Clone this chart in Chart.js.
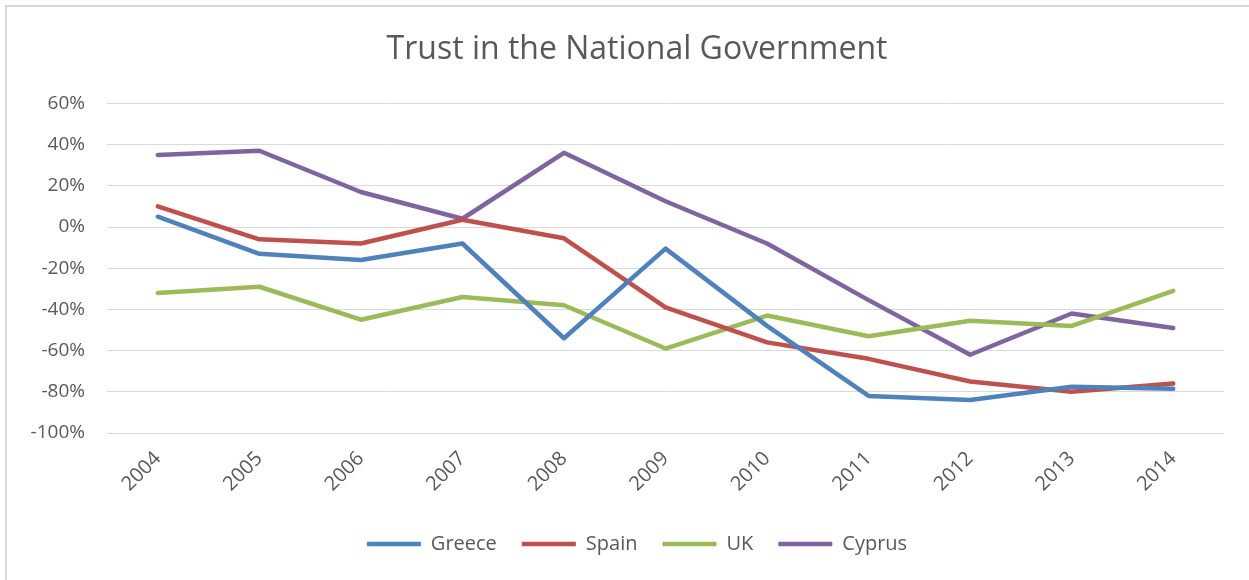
<!DOCTYPE html>
<html>
<head>
<meta charset="utf-8">
<script src="https://cdn.jsdelivr.net/npm/chart.js@4.4.1/dist/chart.umd.min.js"></script>
<style>
  html, body { margin: 0; padding: 0; background: #fff; overflow: hidden; }
  #frame {
    position: absolute; left: 5px; top: 5px; width: 1260px; height: 590px;
    border-left: 2px solid #d9d9d9; border-top: 2px solid #d9d9d9;
  }
  #wrap { position: absolute; left: 0; top: 0; width: 1249px; height: 580px; }
</style>
</head>
<body>
<div id="frame"></div>
<div id="wrap"><canvas id="chart" width="1249" height="580"></canvas></div>
<script>
// Survey years on the horizontal axis
const years = ['2004', '2005', '2006', '2007', '2008', '2009', '2010', '2011', '2012', '2013', '2014'];

// Net trust in national government, percent
const greece = [5, -13, -16, -8, -54, -10.5, -48, -82, -84, -77.5, -78.5];
const spain  = [10, -6, -8, 3.5, -5.5, -39, -56, -64, -75, -80, -76];
const uk     = [-32, -29, -45, -34, -38, -59, -43, -53, -45.5, -48, -31];
const cyprus = [35, 37, 17, 4, 36, 12.5, -8, -35.5, -62, -42, -49];

// Vertical axis range and tick step, percent
const yMin = -100;
const yMax = 60;
const yStep = 20;

const seriesNames = ['Greece', 'Spain', 'UK', 'Cyprus'];
const seriesData = [greece, spain, uk, cyprus];
const seriesColors = ['#4f81bd', '#c0504d', '#9bbb59', '#8064a2'];

const textColor = '#595959';
const fontFamily = "'Open Sans', sans-serif";

const datasets = seriesNames.map((name, i) => ({
  label: name,
  data: seriesData[i],
  borderColor: seriesColors[i],
  backgroundColor: seriesColors[i],
  borderWidth: 4.5,
  borderCapStyle: 'round',
  borderJoinStyle: 'round',
  pointRadius: 0,
  pointHoverRadius: 0,
  pointStyle: 'line',
  tension: 0,
  fill: false
}));

new Chart(document.getElementById('chart'), {
  type: 'line',
  data: { labels: years, datasets: datasets },
  options: {
    responsive: false,
    animation: false,
    layout: { padding: { left: 25, right: 0, top: 0, bottom: 16 } },
    plugins: {
      title: {
        display: true,
        text: 'Trust in the National Government',
        color: textColor,
        font: { family: fontFamily, size: 32, weight: 'normal' },
        padding: { top: 31, bottom: 34 }
      },
      legend: {
        position: 'bottom',
        labels: {
          color: textColor,
          font: { family: fontFamily, size: 20 },
          usePointStyle: true,
          pointStyleWidth: 54,
          padding: 25
        }
      },
      tooltip: { enabled: false }
    },
    scales: {
      y: {
        min: yMin,
        max: yMax,
        ticks: {
          stepSize: yStep,
          color: textColor,
          padding: 22,
          font: { family: fontFamily, size: 19 },
          callback: v => v + '%'
        },
        grid: { color: '#d9d9d9', lineWidth: 1, drawTicks: false },
        border: { display: false },
        afterFit: s => { s.width = 82; }
      },
      // empty strip on the right of the plot area
      yRight: {
        position: 'right',
        ticks: { display: false },
        grid: { display: false, drawTicks: false },
        border: { display: false },
        afterFit: s => { s.width = 25; }
      },
      x: {
        offset: true,
        ticks: {
          color: textColor,
          minRotation: 45,
          maxRotation: 45,
          padding: 14,
          font: { family: fontFamily, size: 20 }
        },
        grid: { display: false, drawTicks: false },
        border: { display: false },
        afterFit: s => { s.height = 76; }
      }
    }
  }
});
</script>
</body>
</html>
